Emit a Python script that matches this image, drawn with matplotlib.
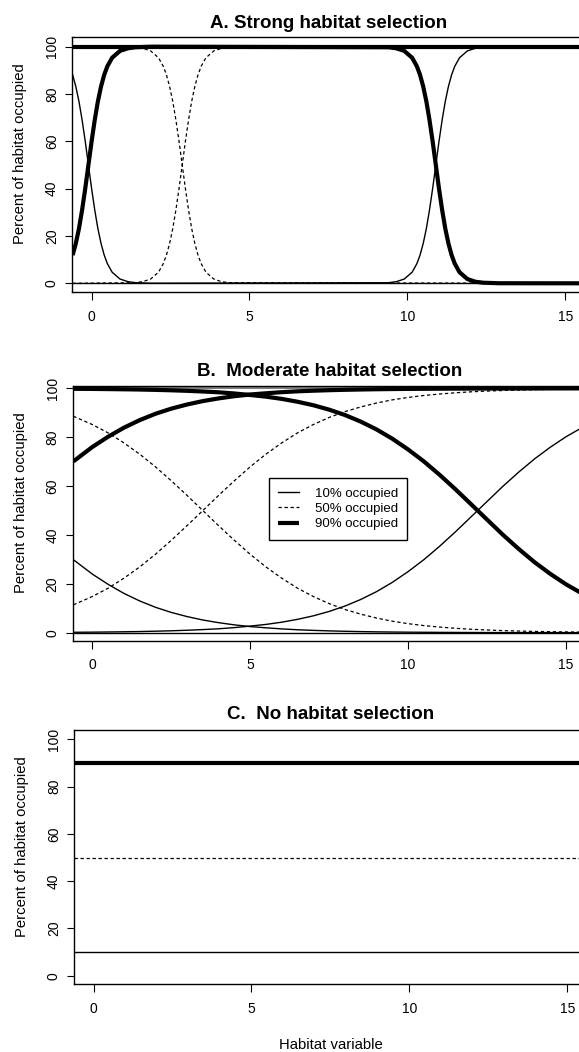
import matplotlib.pyplot as plt

plt.rcParams['font.family'] = ['Liberation Sans', 'DejaVu Sans']

# A. strong selection -- 10% (thin) and 90% (thick) curves share one x grid
xa = [-0.6, -0.5, -0.4, -0.3, -0.2, -0.1, 0.0, 0.1, 0.2, 0.3, 0.4, 0.5,
      0.65, 0.9, 1.15, 1.4, 1.9, 9.4, 9.65, 9.9, 10.15, 10.3,
      10.4, 10.5, 10.6, 10.7, 10.8, 10.9, 11.0, 11.1, 11.2, 11.3, 11.4, 11.5,
      11.65, 11.9, 12.15, 12.4, 12.9, 15.6]
a_thick = [11.9, 16.8, 23.1, 31.0, 40.1, 50.0, 59.9, 69.0, 76.9, 83.2, 88.1, 91.7,
           95.3, 98.2, 99.3, 99.75, 99.97, 99.75, 99.3, 98.2, 95.3, 91.7,
           88.1, 83.2, 76.9, 69.0, 59.9, 50.0, 40.1, 31.0, 23.1, 16.8, 11.9, 8.3,
           4.7, 1.8, 0.67, 0.25, 0.03, 0.0]
a_thin = [88.1, 83.2, 76.9, 69.0, 59.9, 50.0, 40.1, 31.0, 23.1, 16.8, 11.9, 8.3,
          4.7, 1.8, 0.7, 0.25, 0.03, 0.25, 0.7, 1.8, 4.7, 8.3,
          11.9, 16.8, 23.1, 31.0, 40.1, 50.0, 59.9, 69.0, 76.9, 83.2, 88.1, 91.7,
          95.3, 98.2, 99.3, 99.75, 99.97, 100.0]

# 50% curves
xa_mid = [-0.6, 1.37, 1.62, 1.87, 2.12, 2.27, 2.37, 2.47, 2.57, 2.67, 2.77, 2.87,
          2.97, 3.07, 3.17, 3.27, 3.37, 3.47, 3.62, 3.87, 4.12, 4.37, 15.6]
a_dash_down = [100.0, 99.75, 99.3, 98.2, 95.3, 91.7, 88.1, 83.2, 76.9, 69.0, 59.9, 50.0,
               40.1, 31.0, 23.1, 16.8, 11.9, 8.3, 4.7, 1.8, 0.67, 0.25, 0.0]
a_dash_up = [0.0, 0.25, 0.7, 1.8, 4.7, 8.3, 11.9, 16.8, 23.1, 31.0, 40.1, 50.0,
             59.9, 69.0, 76.9, 83.2, 88.1, 91.7, 95.3, 98.2, 99.3, 99.75, 100.0]

# B. moderate selection
xb = [-0.6, 0, 0.5, 1, 1.5, 2, 2.5, 3, 3.5, 4, 4.5, 5, 5.5, 6, 6.5, 7, 7.5, 8,
      8.5, 9, 9.5, 10, 10.5, 11, 11.5, 12, 12.5, 13, 13.5, 14, 14.5, 15, 15.5]
b_thin_down = [29.9, 24.0, 19.8, 16.1, 13.0, 10.4, 8.3, 6.6, 5.2, 4.1, 3.2, 2.5, 2.0,
               1.55, 1.2, 0.95, 0.74, 0.58, 0.45, 0.35, 0.27, 0.21, 0.17, 0.13, 0.10,
               0.08, 0.06, 0.05, 0.04, 0.03, 0.02, 0.02, 0.01]
b_thin_up = [0.17, 0.22, 0.29, 0.37, 0.47, 0.61, 0.78, 1.0, 1.27, 1.6, 2.08, 2.7, 3.39,
             4.3, 5.47, 6.9, 8.7, 10.9, 13.6, 16.8, 20.6, 25.0, 29.9, 35.4, 41.3,
             47.5, 53.7, 59.9, 65.7, 71.1, 75.9, 80.2, 83.9]
b_thick_up = [70.1, 76.0, 80.2, 83.9, 87.0, 89.6, 91.7, 93.4, 94.8, 95.9, 96.8, 97.5, 98.0,
              98.45, 98.8, 99.05, 99.26, 99.42, 99.55, 99.65, 99.73, 99.79, 99.83, 99.87,
              99.90, 99.92, 99.94, 99.95, 99.96, 99.97, 99.98, 99.98, 99.99]
b_thick_down = [99.83, 99.78, 99.71, 99.63, 99.53, 99.39, 99.22, 99.0, 98.73, 98.4, 97.92,
                97.3, 96.61, 95.7, 94.53, 93.1, 91.3, 89.1, 86.4, 83.2, 79.4, 75.0, 70.1,
                64.6, 58.7, 52.5, 46.3, 40.1, 34.3, 28.9, 24.1, 19.8, 16.1]
b_dash_down = [88.6, 85.2, 81.8, 77.7, 73.1, 67.9, 62.2, 56.2, 50.0, 43.8, 37.8, 32.1, 26.9,
               22.3, 18.2, 14.8, 11.9, 9.5, 7.6, 6.0, 4.7, 3.7, 2.9, 2.3, 1.8, 1.4, 1.1,
               0.86, 0.67, 0.52, 0.41, 0.32, 0.25]
b_dash_up = [11.4, 14.8, 18.2, 22.3, 26.9, 32.1, 37.8, 43.8, 50.0, 56.2, 62.2, 67.9, 73.1,
             77.7, 81.8, 85.2, 88.1, 90.5, 92.4, 94.0, 95.3, 96.3, 97.1, 97.7, 98.2, 98.6,
             98.9, 99.14, 99.33, 99.48, 99.59, 99.68, 99.75]

# C. no selection
c_levels = [10, 50, 90]

labels = ['10% occupied', '50% occupied', '90% occupied']
thin = dict(color='black', lw=1.0)
dash = dict(color='black', lw=0.9, ls=(0, (2.7, 2.1)))
thick = dict(color='black', lw=3.0, solid_capstyle='butt', solid_joinstyle='round')

W, H = 579, 1052
fig = plt.figure(figsize=(W / 100, H / 100), dpi=100)

XMIN, XMAX = -0.62, 15.63
AX_W = 513.2


def make_axes(left, top, bottom, ylim, title, title_pad):
    ax = fig.add_axes([left / W, 1 - bottom / H, AX_W / W, (bottom - top) / H])
    ax.set_xlim(XMIN, XMAX)
    ax.set_ylim(*ylim)
    ax.set_xticks([0, 5, 10, 15])
    ax.set_yticks([0, 20, 40, 60, 80, 100])
    ax.tick_params(direction='out', length=5.4, width=0.8, labelsize=10, color='black')
    ax.tick_params(axis='x', pad=7)
    ax.tick_params(axis='y', pad=4, labelrotation=90)
    for lbl in ax.get_yticklabels():
        lbl.set_va('center')
    for s in ax.spines.values():
        s.set_linewidth(1.0)
    ax.set_title(title, fontsize=13.5, fontweight='bold', pad=title_pad)
    ax.set_ylabel('Percent of habitat occupied', fontsize=10.7)
    ax.yaxis.set_label_coords(-0.1013, 0.543)
    ax.yaxis.label.set_va('center')
    return ax


# panel A
ax = make_axes(72, 36.7, 292.3, (-3.8, 104.2), 'A. Strong habitat selection', 6.6)
ax.axhline(0, **thin)
ax.axhline(100, **thick)
ax.plot(xa, a_thin, **thin)
ax.plot(xa_mid, a_dash_down, **dash)
ax.plot(xa_mid, a_dash_up, **dash)
ax.plot(xa, a_thick, **thick)

# panel B
ax = make_axes(72.7, 385.7, 641, (-3.4, 101.1), 'B.  Moderate habitat selection', 7.3)
ax.axhline(0, **thin)
ax.axhline(100, color='0.5', lw=1.5)
h1, = ax.plot(xb, b_thin_down, **thin)
ax.plot(xb, b_thin_up, **thin)
h2, = ax.plot(xb, b_dash_down, **dash)
ax.plot(xb, b_dash_up, **dash)
h3, = ax.plot(xb, b_thick_up, **thick)
ax.plot(xb, b_thick_down, **thick)
leg = ax.legend([h1, h2, h3], labels, loc='upper left', bbox_to_anchor=(5.6, 63.2),
                bbox_transform=ax.transData, borderaxespad=0, fontsize=9.5,
                handlelength=1.6, handletextpad=1.15, borderpad=0.7, labelspacing=0.23,
                fancybox=False, framealpha=1, edgecolor='black')
leg.get_frame().set_linewidth(1.0)

# panel C
ax = make_axes(74, 730, 984.3, (-3.6, 103.9), 'C.  No habitat selection', 7.6)
for lev, st in zip(c_levels, [thin, dash, thick]):
    ax.axhline(lev, **st)
ax.set_xlabel('Habitat variable', fontsize=10.7)
ax.xaxis.set_label_coords(0.5, -0.2387)
ax.xaxis.label.set_va('center')

fig.savefig('out.png', dpi=100)
